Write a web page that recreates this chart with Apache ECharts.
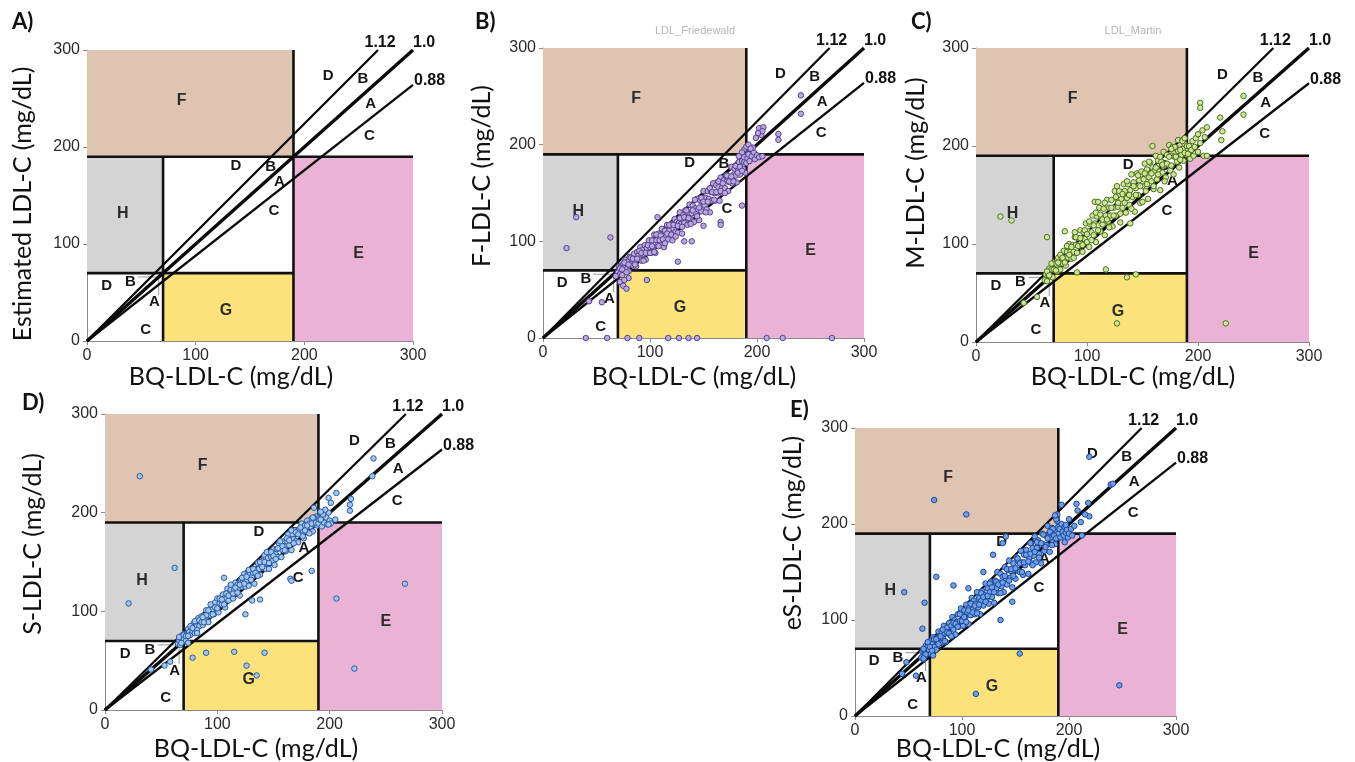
<!DOCTYPE html>
<html><head><meta charset="utf-8">
<script src="https://cdn.jsdelivr.net/npm/echarts@6/dist/echarts.min.js"></script>
<style>html,body{margin:0;padding:0;background:#fff}#c{width:1355px;height:762px}</style>
</head><body><div id="c"></div>
<script>
// ---------- DATA ----------
const tickValues = [0, 100, 200, 300];
const cutLow = 70, cutHigh = 190;
const slopes = [1.12, 1.0, 0.88];
const slopeLabels = ['1.12', '1.0', '0.88'];
const xTitle = 'BQ-LDL-C (mg/dL)';
const yTitles = ['Estimated LDL-C (mg/dL)', 'F-LDL-C (mg/dL)', 'M-LDL-C (mg/dL)', 'S-LDL-C (mg/dL)', 'eS-LDL-C (mg/dL)'];
const panelLetters = ['A)', 'B)', 'C)', 'D)', 'E)'];
const regionNames = ['F', 'H', 'E', 'G'];
const zoneLetters = ['D', 'B', 'A', 'C'];

const pointsB = [
[70,68],[71,74],[72,66],[73,74],[74,65],[75,77],[76,72],[77,81],[78,71],[79,79],[80,69],[81,84],[82,77],[83,82],[84,75],[85,87],[86,80],[87,74],[88,89],[89,85],[90,82],
[91,94],[92,80],[93,91],[94,87],[95,96],[96,81],[97,93],[98,88],[99,101],[100,94],[101,88],[102,101],[103,94],[104,107],[105,88],[106,101],[107,96],[108,108],[109,101],[110,96],
[111,113],[112,106],[113,94],[114,111],[115,105],[116,117],[117,102],[118,111],[119,107],[120,118],[121,101],[122,113],[123,123],[124,110],[125,120],[126,109],[127,119],[128,130],[129,118],[130,108],
[131,127],[132,119],[133,132],[134,125],[135,117],[136,130],[137,138],[138,123],[139,129],[140,137],[141,120],[142,134],[143,129],[144,144],[145,133],[146,122],[147,142],[148,131],[149,140],[150,152],
[151,137],[152,145],[153,133],[154,152],[155,144],[156,130],[157,151],[158,142],[159,160],[160,150],[161,142],[162,158],[163,150],[164,156],[165,142],[166,166],[167,155],[168,150],[169,163],[170,155],
[171,168],[172,162],[173,152],[174,167],[175,161],[176,177],[177,160],[178,169],[179,175],[180,168],[181,161],[182,176],[183,182],[184,169],[185,176],[186,183],[187,175],[188,182],[189,171],[190,188],
[72,72],[74,71],[76,78],[78,68],[80,76],[82,83],[84,82],[86,76],[88,82],[90,90],[92,88],[94,80],[96,88],[98,96],[100,88],[102,95],[104,89],[106,107],[108,95],[110,106],[112,102],[114,98],[116,108],[118,117],[120,107],[122,117],[124,105],[126,116],[128,124],[130,115],[132,125],[134,132],[136,124],[138,118],[140,132],[142,143],[144,126],[146,135],[148,145],[150,141],[152,130],[154,141],[156,155],[158,151],[160,143],[162,151],[164,162],[166,152],[168,160],[170,150],[172,168],[174,162],[176,167],[178,162],[180,178],[182,171],[184,177],[186,173],[188,187],[190,181],
[191,186],[192,190],[193,183],[195,188],[197,192],[196,197],[198,185],[200,189],[202,187],[205,188],[188,195],[190,198],[192,200],[194,196],[186,192],[183,188],
[199,207],[202,217],[204,210],[206,218],[205,214],[201,212],[220,211],[220,205],[241,251],[241,232],
[31,125],[22,93],[63,104],[97,60],[126,79],[150,116],[166,120],[166,117],[186,137],[132,100],[139,100],[107,125],[43,38],[55,37],[72,58],[75,54],[78,51],[80,62],[76,60],[68,64],
[40,0],[60,0],[79,0],[90,0],[117,0],[127,0],[136,0],[144,0],[209,0],[224,0],[270,0]
];

const pointsC = [
[62,63],[63,69],[64,62],[65,69],[66,75],[67,67],[68,74],[69,66],[70,81],[71,74],[72,80],[73,72],[74,86],[75,80],[76,74],[77,86],[78,80],[79,93],[80,86],
[81,78],[82,92],[83,86],[84,100],[85,92],[86,85],[87,99],[88,92],[89,107],[90,99],[91,91],[92,106],[93,98],[94,114],[95,105],[96,92],[97,112],[98,105],[99,121],[100,102],
[101,113],[102,97],[103,120],[104,112],[105,129],[106,109],[107,121],[108,102],[109,128],[110,119],[111,137],[112,113],[113,128],[114,120],[115,136],[116,109],[117,129],[118,145],[119,123],[120,137],
[121,129],[122,145],[123,118],[124,137],[125,154],[126,129],[127,146],[128,138],[129,154],[130,122],[131,146],[132,137],[133,161],[134,154],[135,132],[136,147],[137,161],[138,140],[139,155],[140,171],
[141,148],[142,163],[143,133],[144,157],[145,172],[146,150],[147,165],[148,142],[149,174],[150,159],[151,166],[152,182],[153,154],[154,176],[155,146],[156,168],[157,183],[158,164],[159,178],[160,156],
[161,175],[162,190],[163,166],[164,185],[165,174],[166,155],[167,184],[168,173],[169,194],[170,181],[171,168],[172,191],[173,181],[174,201],[175,175],[176,190],[177,199],[178,171],[179,189],[180,198],
[181,184],[182,206],[183,178],[184,196],[185,191],[186,206],[187,185],[188,202],[189,197],[190,191],
[64,72],[66,68],[68,80],[70,74],[72,73],[74,81],[76,89],[78,86],[80,81],[82,98],[84,89],[86,97],[88,86],[90,107],[92,98],[94,106],[96,99],[98,114],[100,110],[102,123],[104,104],[106,119],[108,132],[110,114],[112,130],[114,125],[116,142],[118,125],[120,117],[122,137],[124,129],[126,148],[128,142],[130,131],[132,151],[134,142],[136,164],[138,150],[140,136],[142,159],[144,150],[146,170],[148,159],[150,143],[152,172],[154,161],[156,184],[158,172],[160,159],[162,178],[164,171],[166,189],[168,181],[170,164],[172,182],[174,189],[176,180],[178,198],[180,189],[182,195],[184,186],[186,197],[188,193],[190,200],
[191,192],[192,200],[193,187],[194,196],[195,205],[196,190],[197,199],[198,208],[200,194],[200,212],[202,203],[204,216],[205,190],[206,209],[208,219],[186,205],[188,208],[184,196],[179,199],[176,197],
[22,128],[32,124],[64,107],[80,113],[89,112],[107,143],[110,143],[127,159],[159,200],[202,244],[202,239],[241,251],[241,232],[220,229],[222,215],[221,206],[208,190],[117,74],[136,66],[144,69],[91,71],[127,19],[225,19],[43,40],[55,46],[139,121]
];

const pointsD = [
[65,67],[66,71],[67,66],[68,72],[69,76],[70,71],[71,77],[72,70],[73,76],[74,82],[75,79],[76,76],[77,84],[78,80],[79,88],[80,78],[81,86],[82,85],[83,93],[84,85],[85,91],[86,95],[87,86],[88,95],[89,92],[90,101],[91,95],[92,89],[93,101],[94,96],[95,105],[96,102],[97,97],[98,109],[99,103],[100,113],
[101,99],[102,108],[103,112],[104,107],[105,117],[106,113],[107,104],[108,113],[109,123],[110,111],[111,119],[112,122],[113,117],[114,113],[115,122],[116,129],[117,119],[118,127],[119,124],[120,116],
[121,132],[122,125],[123,131],[124,138],[125,125],[126,131],[127,137],[128,126],[129,137],[130,142],[131,135],[132,139],[133,128],[134,143],[135,137],[136,149],[137,143],[138,137],[139,147],[140,151],
[141,144],[142,157],[143,143],[144,149],[145,154],[146,143],[147,158],[148,155],[149,151],[150,163],[151,147],[152,158],[153,163],[154,155],[155,169],[156,164],[157,155],[158,162],[159,171],[160,166],
[161,161],[162,171],[163,178],[164,167],[165,172],[166,162],[167,178],[168,173],[169,182],[170,171],[171,179],[172,170],[173,183],[174,178],[175,189],[176,182],[177,174],[178,187],[179,181],[180,192],
[181,180],[182,189],[183,186],[184,194],[185,181],[186,191],[187,188],[188,196],[189,187],[190,194],
[66,74],[68,68],[70,76],[72,75],[74,75],[76,85],[78,83],[80,90],[82,81],[84,91],[86,89],[88,89],[90,96],[92,101],[94,107],[96,97],[98,104],[100,103],[102,113],[104,112],[106,107],[108,118],[110,116],[112,127],[114,118],[116,124],[118,119],[120,127],[122,134],[124,128],[126,135],[128,142],[130,132],[132,143],[134,139],[136,136],[138,150],[140,145],[142,150],[144,160],[146,149],[148,160],[150,156],[152,153],[154,164],[156,171],[158,166],[160,162],[162,174],[164,172],[166,182],[168,169],[170,180],[172,178],[174,185],[176,176],[178,182],[180,187],[182,179],[184,189],[186,195],[188,190],[190,189],
[191,193],[192,200],[193,186],[195,190],[197,195],[198,188],[200,192],[199,200],[196,203],[194,198],[201,189],[185,195],
[31,237],[21,108],[62,144],[206,113],[267,128],[222,42],[78,53],[90,58],[115,59],[142,58],[126,45],[135,35],[41,41],[53,45],[58,49],[239,255],[238,237],[206,220],[199,215],[201,210],[219,214],[218,208],[218,202],[205,193],[199,188],[192,193],[186,205],[192,201],[184,141],[165,133],[166,131],[125,97],[138,112],[131,111],[106,134],[87,94],[82,78],[74,68]
];

const pointsE = [
[62,61],[63,67],[64,59],[65,67],[66,73],[67,64],[68,73],[69,69],[70,78],[71,65],[72,75],[73,82],[74,72],[75,80],[76,69],[77,78],[78,88],[79,83],[80,76],[81,88],[82,81],[83,94],[84,86],[85,77],[86,92],[87,87],[88,97],[89,84],[90,94],
[91,103],[92,90],[93,100],[94,85],[95,98],[96,106],[97,93],[98,99],[99,112],[100,105],[101,94],[102,110],[103,102],[104,116],[105,108],[106,96],[107,113],[108,105],[109,123],[110,111],
[111,120],[112,106],[113,117],[114,129],[115,113],[116,123],[117,106],[118,120],[119,130],[120,115],[121,126],[122,138],[123,122],[124,133],[125,117],[126,129],[127,140],[128,124],[129,135],[130,118],
[131,141],[132,133],[133,150],[134,128],[135,139],[136,148],[137,135],[138,145],[139,129],[140,155],[141,143],[142,137],[143,152],[144,162],[145,144],[146,151],[147,134],[148,159],[149,152],[150,143],
[151,165],[152,152],[153,161],[154,150],[155,172],[156,160],[157,147],[158,168],[159,157],[160,173],[161,167],[162,148],[163,165],[164,180],[165,159],[166,175],[167,167],[168,187],[169,160],[170,175],
[171,183],[172,169],[173,180],[174,159],[175,190],[176,179],[177,172],[178,188],[179,178],[180,198],[181,187],[182,171],[183,185],[184,196],[185,181],[186,194],[187,179],[188,192],[189,203],[190,190],
[64,70],[66,64],[68,77],[70,72],[72,68],[74,80],[76,80],[78,75],[80,83],[82,90],[84,78],[86,87],[88,86],[90,83],[92,97],[94,96],[96,93],[98,106],[100,99],[102,103],[104,98],[106,110],[108,117],[110,108],[112,115],[114,107],[116,116],[118,128],[120,124],[122,119],[124,125],[126,138],[128,134],[130,129],[132,140],[134,137],[136,128],[138,139],[140,146],[142,153],[144,141],[146,153],[148,146],[150,154],[152,164],[154,159],[156,150],[158,160],[160,168],[162,161],[164,169],[166,157],[168,171],[170,181],[172,165],[174,180],[176,189],[178,176],[180,185],[182,191],[184,178],[186,188],[188,185],[190,197],
[191,195],[192,186],[193,200],[194,192],[195,188],[196,197],[197,191],[198,194],[199,186],[200,190],[188,205],[189,210],[185,195],[182,192],[202,195],[205,198],[203,188],
[74,225],[104,210],[219,270],[239,241],[241,242],[46,129],[65,118],[63,91],[76,145],[92,136],[106,133],[154,65],[113,23],[247,32],[48,56],[44,44],[57,42],[141,187],[138,180],[129,168],[120,150],[136,100],[147,119],[207,221],[218,222],[219,208],[211,202],[212,188],[193,220],[187,209],[197,199],[196,181],[208,214],[200,205],[215,210],[73,63],[64,60]
];
const panelPoints = [null, pointsB, pointsC, pointsD, pointsE];

// ---------- LAYOUT / STYLE ----------
const grids = [
  {left: 87, top: 50, width: 326, height: 291},
  {left: 543, top: 48, width: 321, height: 290},
  {left: 976, top: 48, width: 333, height: 294},
  {left: 105, top: 414, width: 337, height: 296},
  {left: 855, top: 428, width: 321, height: 288}
];
const letterPos = [[12, 22], [475, 22], [911, 22], [22, 403], [790, 410]];
const yTitlePos = [[23, 204], [482, 176], [916, 173], [33, 544], [793, 533]];
const xTitlePos = [[231, 377], [694, 377], [1133, 377], [256, 749], [998, 749]];
const regionColors = ['#dfc4b1', '#d4d4d4', '#eab3d5', '#fce27a'];
const pointFill = [null, '#b9a8dd', '#cde598', '#a2c6ee', '#6f9fe6'];
const pointBorder = [null, '#55428f', '#4f7020', '#2b5ba3', '#1d4795'];
const regionLabelPos = [[87, 248], [33, 131], [250, 90], [128, 31]];
const zoneLabelSets = [
  [[222, 273], [254, 270], [261, 244], [260, 212]],
  [[137, 181], [169, 180], [177, 164], [172, 134]],
  [[18, 57], [40, 61], [62, 40], [54, 12]]
];
const leaderLine = [[47, 66], [66, 66], [66, 47]];
const ghostTitles = [[695, 31, 'LDL_Friedewald'], [1133, 31, 'LDL_Martin']];

const axisMax = tickValues[tickValues.length - 1];
const tickStep = tickValues[1] - tickValues[0];

const option = {
  animation: false,
  backgroundColor: '#fff',
  grid: grids,
  xAxis: [], yAxis: [], series: [], graphic: []
};

function axisCfg(i) {
  return {
    type: 'value', gridIndex: i, min: tickValues[0], max: axisMax, interval: tickStep,
    splitLine: {show: false},
    axisLine: {show: true, lineStyle: {color: '#8a8a8a', width: 1}},
    axisTick: {show: true, length: 4, lineStyle: {color: '#8a8a8a'}},
    axisLabel: {fontSize: 16, color: '#2a2a2a', fontFamily: 'Liberation Sans, Arial', margin: 7}
  };
}

function rectRender(params, api) {
  const p1 = api.coord([api.value(0), api.value(3)]);
  const p2 = api.coord([api.value(2), api.value(1)]);
  return {type: 'rect', shape: {x: p1[0], y: p1[1], width: p2[0] - p1[0], height: p2[1] - p1[1]},
          style: {fill: regionColors[api.value(4)]}};
}

const regionRects = [
  [0, cutHigh, cutHigh, axisMax, 0],
  [0, cutLow, cutLow, cutHigh, 1],
  [cutHigh, 0, axisMax, cutHigh, 2],
  [cutLow, 0, cutHigh, cutLow, 3]
];
const borderSegs = [
  [[0, cutHigh], [axisMax, cutHigh]],
  [[cutHigh, 0], [cutHigh, axisMax]],
  [[cutLow, 0], [cutLow, cutHigh]],
  [[0, cutLow], [cutHigh, cutLow]]
];

for (let i = 0; i < 5; i++) {
  option.xAxis.push(axisCfg(i));
  option.yAxis.push(axisCfg(i));
  const xi = i, yi = i;
  option.series.push({
    type: 'custom', xAxisIndex: xi, yAxisIndex: yi, renderItem: rectRender,
    data: regionRects, encode: {x: [0, 2], y: [1, 3]}, z: 1, silent: true
  });
  const labelData = [];
  regionNames.forEach((n, k) => labelData.push({name: n, value: regionLabelPos[k], big: true}));
  zoneLabelSets.forEach(set => set.forEach((p, k) => labelData.push({name: zoneLetters[k], value: p})));
  option.series.push({
    type: 'scatter', xAxisIndex: xi, yAxisIndex: yi, symbolSize: 0, z: 2, silent: true,
    itemStyle: {opacity: 1},
    data: labelData.map(d => ({name: d.name, value: d.value,
      label: {show: true, position: 'inside', formatter: '{b}',
        fontSize: d.big ? 16 : 15, fontWeight: 'bold', color: d.big ? '#2b2b2b' : '#161616',
        fontFamily: 'Liberation Sans, Arial'}}))
  });
  option.series.push({
    type: 'line', xAxisIndex: xi, yAxisIndex: yi, data: leaderLine, symbol: 'none', z: 2,
    lineStyle: {color: '#9a9a9a', width: 1}, silent: true
  });
  borderSegs.forEach(seg => option.series.push({
    type: 'line', xAxisIndex: xi, yAxisIndex: yi, data: seg, symbol: 'none', z: 3,
    lineStyle: {color: '#111', width: 2.6}, silent: true
  }));
  const ends = [];
  slopes.forEach((s, k) => {
    const ex = Math.min(axisMax, axisMax / s), ey = Math.min(axisMax, s * axisMax);
    ends.push([ex, ey]);
    option.series.push({
      type: 'line', xAxisIndex: xi, yAxisIndex: yi, data: [[0, 0], [ex, ey]], symbol: 'none', z: 3,
      lineStyle: {color: '#0a0a0a', width: s === 1 ? 3.4 : 2.3}, silent: true
    });
  });
  const ratioOffsets = [{align: 'center', offset: [2, -7]}, {align: 'left', offset: [0, -7]}, {align: 'left', offset: [1, -4]}];
  option.series.push({
    type: 'scatter', xAxisIndex: xi, yAxisIndex: yi, symbolSize: 0, z: 6, clip: false, silent: true,
    itemStyle: {opacity: 1},
    data: ends.map((e, k) => ({name: slopeLabels[k], value: e,
      label: {show: true, position: k === 0 ? 'inside' : 'right', distance: 0, formatter: '{b}',
        align: ratioOffsets[k].align, offset: ratioOffsets[k].offset,
        fontSize: 16, fontWeight: 'bold', color: '#111', fontFamily: 'Liberation Sans, Arial'}}))
  });
  if (panelPoints[i]) {
    option.series.push({
      type: 'scatter', xAxisIndex: xi, yAxisIndex: yi, data: panelPoints[i], symbolSize: 5.5, z: 5,
      clip: false, silent: true,
      itemStyle: {color: pointFill[i], borderColor: pointBorder[i], borderWidth: 1, opacity: 1}
    });
  }
  option.graphic.push({type: 'text', x: letterPos[i][0], y: letterPos[i][1],
    style: {text: panelLetters[i], font: 'bold 22px Lato, "Open Sans", sans-serif', fill: '#111', textAlign: 'left', textVerticalAlign: 'middle'}});
  option.graphic.push({type: 'text', x: yTitlePos[i][0], y: yTitlePos[i][1], rotation: Math.PI / 2,
    style: {text: yTitles[i], font: '25px Lato, "Open Sans", sans-serif', fill: '#111', textAlign: 'center', textVerticalAlign: 'middle'}});
  option.graphic.push({type: 'text', x: xTitlePos[i][0], y: xTitlePos[i][1],
    style: {text: xTitle, font: '25px Lato, "Open Sans", sans-serif', fill: '#111', textAlign: 'center', textVerticalAlign: 'middle'}});
}
ghostTitles.forEach(g => option.graphic.push({type: 'text', x: g[0], y: g[1],
  style: {text: g[2], font: '11px "Liberation Sans", Arial', fill: '#b5b5b5', textAlign: 'center', textVerticalAlign: 'middle'}}));

const chart = echarts.init(document.getElementById('c'), null, {renderer: 'canvas'});
chart.setOption(option);
</script>
</body></html>
